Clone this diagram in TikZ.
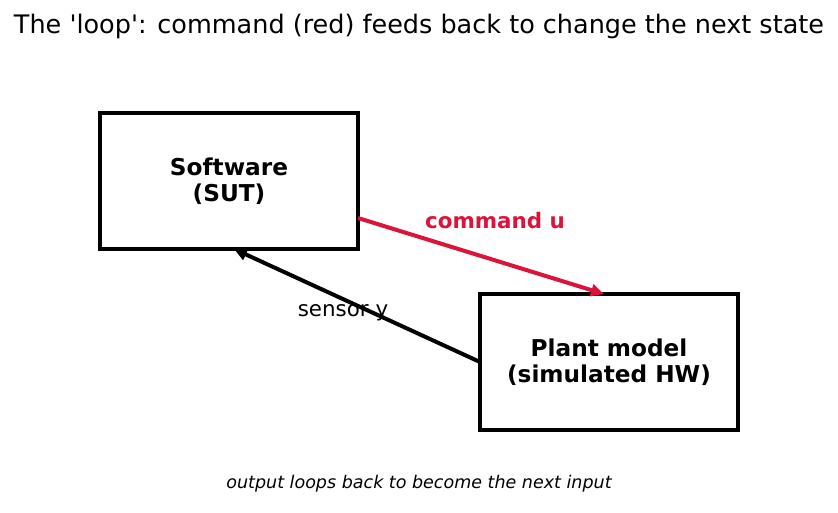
\documentclass[tikz,border=0pt]{standalone}
\usepackage{fontspec}
\setmainfont{DejaVu Sans}
\usetikzlibrary{arrows.meta}
\definecolor{crimson}{HTML}{DC143C}
\begin{document}
\begin{tikzpicture}[x=1pt,y=-1pt,
  block/.style={draw=black, line width=4pt, minimum width=258pt, minimum height=136pt, inner sep=0pt, outer sep=0pt, align=center, font=\fontsize{23.2}{26}\selectfont\bfseries},
  conn/.style={line width=4pt, -{Triangle[length=13pt,width=12pt]}},
  lbl/.style={inner sep=0pt}]
\useasboundingbox (0,0) rectangle (838,512);
\node[lbl] (title) at (419,26) {\resizebox{810pt}{!}{\fontsize{24}{28}\selectfont The \textquotesingle loop\textquotesingle: command (red) feeds back to change the next state}};
\node[block] (sw) at (229,181) {Software\\(SUT)};
\node[block] (pm) at (609,362) {Plant model\\(simulated HW)};
\draw[conn, crimson] ([yshift=-37pt]sw.east) -- ([xshift=-5pt]pm.north);
\draw[conn, black] (pm.west) -- ([xshift=5pt]sw.south);
\node[lbl, text=crimson, font=\fontsize{21.4}{24}\selectfont\bfseries] (cmd) at (495,221) {command u};
\node[lbl, font=\fontsize{21.4}{24}\selectfont] (sen) at (343,313) {sensor y};
\node[lbl, font=\fontsize{17.5}{20}\selectfont\itshape] (foot) at (419,484) {output loops back to become the next input};
\end{tikzpicture}
\end{document}
